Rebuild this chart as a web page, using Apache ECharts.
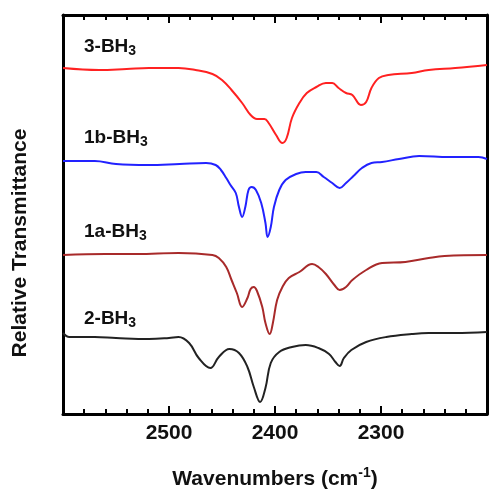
<!DOCTYPE html>
<html>
<head>
<meta charset="utf-8">
<script src="https://cdn.jsdelivr.net/npm/echarts@6/dist/echarts.min.js"></script>
<style>
  html, body { margin: 0; padding: 0; background: #fff; }
  #chart { width: 489px; height: 495px; }
</style>
</head>
<body>
<div id="chart"></div>
<script>
// wavenumber (cm-1) and relative transmittance (arbitrary units, curves offset)
var wn3 = [2600, 2566, 2540, 2519, 2491, 2475, 2459, 2450, 2441, 2431, 2423, 2417, 2410, 2406, 2399, 2393, 2389, 2384, 2377, 2370, 2361, 2352, 2346, 2340, 2333, 2327, 2319, 2314, 2309, 2302, 2293, 2271, 2255, 2230, 2200];
var t3  = [348, 346, 347, 348, 348, 346, 342, 336, 326, 313, 301, 297, 297, 293, 281, 273, 278, 298, 313, 323, 329, 333, 333, 328, 323, 321, 311, 314, 328, 338, 341, 343, 346, 348, 351];

var wn1b = [2600, 2570, 2550, 2520, 2490, 2465, 2456, 2451, 2446, 2442, 2437, 2434, 2431, 2428, 2425, 2422, 2418, 2413, 2409, 2407, 2404, 2401, 2396, 2390, 2380, 2371, 2361, 2354, 2346, 2339, 2333, 2326, 2318, 2309, 2299, 2283, 2264, 2236, 2208, 2200];
var t1b  = [255, 255, 252, 251, 252, 253, 251, 246, 238, 231, 223, 209, 199, 209, 226, 229, 226, 213, 193, 179, 189, 209, 226, 236, 242, 244, 244, 239, 233, 228, 233, 240, 248, 253, 254, 257, 260, 259, 259, 257];

var wn1a = [2600, 2560, 2530, 2491, 2459, 2453, 2446, 2441, 2436, 2431, 2426, 2423, 2420, 2417, 2412, 2409, 2405, 2402, 2398, 2393, 2387, 2377, 2365, 2359, 2352, 2344, 2339, 2333, 2327, 2314, 2299, 2277, 2255, 2240, 2200];
var t1a  = [161, 162, 162, 163, 161, 158, 149, 136, 123, 109, 118, 127, 129, 125, 109, 93, 82, 93, 116, 129, 138, 144, 152, 149, 142, 131, 126, 129, 136, 146, 153, 154, 158, 160, 161];

var wn2 = [2600, 2594, 2570, 2550, 2519, 2500, 2491, 2481, 2472, 2461, 2453, 2443, 2434, 2426, 2420, 2414, 2409, 2404, 2396, 2384, 2371, 2359, 2349, 2343, 2339, 2335, 2328, 2314, 2295, 2271, 2255, 2230, 2200];
var t2  = [83, 79, 79, 78, 77, 78, 79, 73, 58, 48, 59, 67, 63, 49, 29, 14, 28, 53, 64, 69, 71, 68, 62, 54, 50, 58, 66, 74, 79, 82, 83, 83, 84];

var xTicks = [2300, 2400, 2500];
var labels = ['3', '1b', '1a', '2'];
var colors = ['#ff2121', '#2222ff', '#a82a2a', '#222222'];
var labelY = [37, 128, 222, 309];

function zip(xs, ys) {
  return xs.map(function (x, i) { return [x, ys[i]]; });
}

var myChart = echarts.init(document.getElementById('chart'));
var font = 'Liberation Sans, Arial, sans-serif';

function curve(name, data, color) {
  return {
    name: name,
    type: 'line',
    data: data,
    smooth: 0.4,
    symbol: 'none',
    lineStyle: { color: color, width: 2 },
    silent: true
  };
}

var axisCommon = {
  type: 'value',
  min: 2200,
  max: 2600,
  interval: 100,
  inverse: true,
  axisLine: { show: true, onZero: false, lineStyle: { color: '#000', width: 3 } },
  axisTick: { show: true, inside: true, length: 8, lineStyle: { color: '#000', width: 2 } },
  minorTick: { show: true, splitNumber: 5, length: 5, lineStyle: { color: '#000', width: 2 } },
  splitLine: { show: false },
  minorSplitLine: { show: false }
};

var frameY = {
  type: 'value', min: 2, max: 401,
  axisLine: { show: true, onZero: false, lineStyle: { color: '#000', width: 3 } },
  axisTick: { show: false }, axisLabel: { show: false }, splitLine: { show: false }
};

var graphics = labels.map(function (lab, i) {
  return {
    type: 'text',
    left: 84,
    top: labelY[i],
    style: {
      text: '{b|' + lab + '-BH}{s|3}',
      rich: {
        b: { fontSize: 19, fontWeight: 'bold', fontFamily: font, fill: '#111' },
        s: { fontSize: 14, fontWeight: 'bold', fontFamily: font, fill: '#111', padding: [10, 0, 0, 0] }
      }
    }
  };
});
graphics.push({
  type: 'text',
  x: 20,
  y: 243,
  rotation: Math.PI / 2,
  style: {
    text: 'Relative Transmittance',
    fontSize: 21,
    fontWeight: 'bold',
    fontFamily: font,
    fill: '#111',
    textAlign: 'center',
    textVerticalAlign: 'middle'
  }
});

myChart.setOption({
  animation: false,
  grid: { left: 63, right: 2, top: 15, bottom: 81 },
  xAxis: [
    Object.assign({}, axisCommon, {
      position: 'bottom',
      axisLabel: {
        show: true, margin: 9, showMinLabel: false, showMaxLabel: false,
        fontSize: 21, fontWeight: 'bold', fontFamily: font, color: '#111',
        formatter: function (v) { return xTicks.indexOf(v) >= 0 ? String(v) : ''; }
      },
      name: '{t|Wavenumbers (cm}{p|-1}{t|)}',
      nameLocation: 'middle',
      nameGap: 52,
      nameTextStyle: {
        rich: {
          t: { fontSize: 21, fontWeight: 'bold', fontFamily: font, color: '#111' },
          p: { fontSize: 14, fontWeight: 'bold', fontFamily: font, color: '#111', padding: [0, 0, 12, 0] }
        }
      }
    }),
    Object.assign({}, axisCommon, {
      position: 'top',
      axisLabel: { show: false }
    })
  ],
  yAxis: [
    Object.assign({}, frameY, { position: 'left' }),
    Object.assign({}, frameY, { position: 'right' })
  ],
  graphic: graphics,
  series: [
    curve('3-BH3', zip(wn3, t3), colors[0]),
    curve('1b-BH3', zip(wn1b, t1b), colors[1]),
    curve('1a-BH3', zip(wn1a, t1a), colors[2]),
    curve('2-BH3', zip(wn2, t2), colors[3])
  ]
});
</script>
</body>
</html>
